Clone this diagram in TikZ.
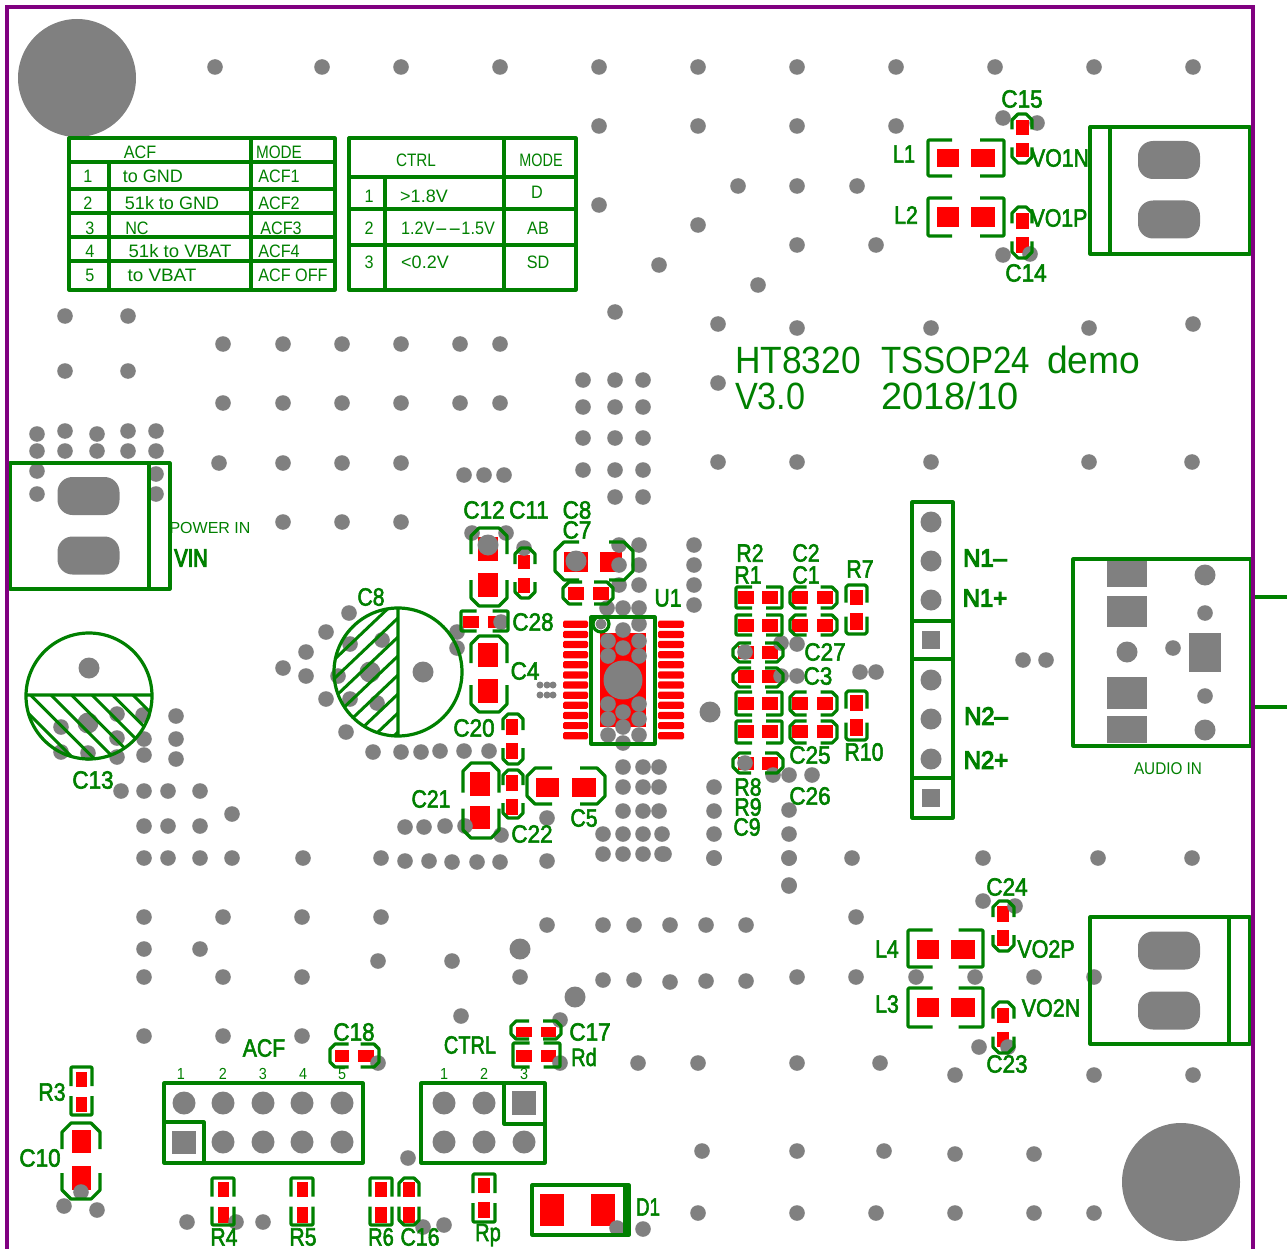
\documentclass[tikz,border=0pt]{standalone}
\usepackage{fontspec}
\setmainfont{Liberation Sans}
\newfontfamily\lbfont[FakeBold=2.5]{Liberation Sans}
\newfontfamily\nbfont[FakeBold=5]{Liberation Sans}
\newfontfamily\thfont{Liberation Sans}
\definecolor{pcbgreen}{RGB}{0,128,0}
\definecolor{pcbgray}{RGB}{128,128,128}
\definecolor{pcbred}{RGB}{255,0,0}
\definecolor{pcbpurple}{RGB}{128,0,128}
\tikzset{
  sk/.style={draw=pcbgreen,line width=3.2pt,line join=round},
  via/.style={fill=pcbgray,draw=none},
  pad/.style={fill=pcbred,draw=none},
  lb/.style={text=pcbgreen,inner sep=0pt,outer sep=0pt,anchor=center},
}
% name, x, y, size, xscale, text
\newcommand{\Lb}[6]{\node[lb] (#1) at (#2,#3) {\lbfont\fontsize{#4}{#4}\selectfont\scalebox{#5}[1]{#6}};}
\newcommand{\Nb}[6]{\node[lb] (#1) at (#2,#3) {\nbfont\fontsize{#4}{#4}\selectfont\scalebox{#5}[1]{#6}};}
\newcommand{\Th}[6]{\node[lb] (#1) at (#2,#3) {\thfont\fontsize{#4}{#4}\selectfont\scalebox{#5}[1]{#6}};}
\begin{document}
\begin{tikzpicture}[x=1pt,y=-1pt]
\useasboundingbox (0,0) rectangle (1287,1249);
\fill[white] (0,0) rectangle (1287,1249);
% red pads
\foreach \xa/\ya/\xb/\yb in {
 478/537/498/561,478/573/498/597,518/555/530/569,518/578/530/593,
 564/552/588/572,600/552/622/572,568/587/584/600,593/587/609/600,
 463/616/479/628,488/616/505/628,478/643/498/667,478/679/498/703,
 506/719/518/735,506/743/518/759,506/775/518/791,506/799/518/815,
 470/772/490/796,470/806/490/829,536/778/559/797,572/778/596/797,
 600/633/646/727,
 937/149/959/167,971/149/995/167,937/207/959/227,971/207/995/227,
 1016/120/1029/135,1016/143/1029/157,1016/213/1029/229,1016/237/1029/253,
 917/940/939/959,951/940/975/959,917/998/939/1017,951/998/975/1017,
 997/906/1009/922,997/930/1009/946,997/1008/1009/1023,997/1032/1009/1047,
 335/1050/349/1062,358/1050/374/1062,516/1027/532/1037,541/1027/556/1037,
 516/1050/532/1062,541/1050/556/1062,
 76/1072/87/1087,76/1097/87/1112,72/1130/91/1153,72/1166/91/1190,
 218/1182/229/1197,218/1207/229/1223,297/1182/308/1197,297/1207/308/1223,
 375/1182/387/1197,375/1207/387/1223,403/1182/415/1197,403/1207/415/1223,
 478/1178/490/1193,478/1202/490/1218,
 540/1194/564/1226,591/1194/615/1226,
 850/590/863/605,850/613/863/630,850/695/863/711,850/719/863/736}
 {\fill[pad] (\xa,\ya) rectangle (\xb,\yb);}
% right-hand small horizontal pads
\foreach \yc in {597,625,703,731}
 \foreach \xc in {746,770,800,825}
  {\fill[pad] ({\xc-8},{\yc-6.5}) rectangle ({\xc+8},{\yc+6.5});}
\foreach \yc in {652,676,763}
 \foreach \xc in {746,770}
  {\fill[pad] ({\xc-8},{\yc-6.5}) rectangle ({\xc+8},{\yc+6.5});}
% U1 pins
\foreach \i in {0,...,11} {
  \fill[pad,rounded corners=1.5pt] (563,{624.3+\i*10.13-3.6}) rectangle (588,{624.3+\i*10.13+3.6});
  \fill[pad,rounded corners=1.5pt] (658,{624.3+\i*10.13-3.6}) rectangle (684,{624.3+\i*10.13+3.6});
}
% vias
\foreach \x/\y in {
 215/67,322/67,401/67,500/67,599/67,698/67,797/67,896/67,995/67,1094/67,1193/67,
 599/126,698/126,797/126,896/126,1003/118,1037/123,
 738/186,797/186,857/186,599/205,698/225,797/245,876/245,659/265,758/285,
 1003/255,1030/254,
 718/324,797/328,931/328,1089/328,1193/324,718/383,
 65/316,128/316,65/371,128/371,615/312,
 223/344,283/344,342/344,401/344,460/344,500/344,
 223/403,283/403,342/403,401/403,460/403,500/403,
 583/380,615/380,643/380,583/407,615/407,643/407,583/438,615/438,643/438,
 583/470,615/470,643/470,615/497,643/497,
 219/463,283/463,342/463,401/463,464/475,484/475,504/475,
 718/462,797/462,931/462,1089/462,1192/462,283/522,342/522,401/522,
 37/434,65/431,97/434,128/431,156/431,37/451,65/451,97/451,128/451,156/451,
 37/471,37/494,156/474,156/494,
 61/727,117/714,143/715,117/738,144/739,61/752,88/753,117/757,144/755,
 176/716,176/739,176/759,
 121/791,144/791,168/791,200/791,144/826,168/826,200/826,232/814,
 144/858,168/858,200/858,232/858,303/858,381/858,405/861,429/861,452/862,477/862,500/862,
 144/917,223/917,302/917,381/917,144/949,200/949,144/977,223/977,302/977,
 378/961,452/961,520/977,547/925,603/925,634/925,670/925,706/925,746/925,
 603/980,634/980,670/982,706/981,746/981,797/977,461/1016,
 144/1036,223/1036,302/1036,378/1063,560/1020,560/1063,638/1063,408/1158,
 64/1206,97/1210,187/1222,236/1222,263/1222,423/1227,444/1225,617/1228,643/1229,81/1192,
 664/854,714/858,789/858,852/858,983/858,1098/858,1192/858,789/885,856/917,
 856/977,916/977,975/977,1034/977,1094/977,983/901,1015/906,979/1047,1008/1047,
 698/1063,797/1063,880/1063,955/1075,1094/1075,1193/1075,
 702/1151,797/1151,884/1151,955/1154,1034/1154,
 698/1213,797/1213,876/1213,955/1213,1034/1213,1094/1213,
 472/533,506/533,488/545,524/548,
 619/545,639/545,694/545,619/565,639/565,694/565,619/585,639/585,694/585,694/605,
 607/608,623/608,639/608,639/624,623/630,457/632,457/648,501/622,
 623/648,608/641,639/641,608/656,639/656,
 623/712,608/704,639/704,608/719,639/719,623/727,608/735,639/735,623/743,
 623/767,643/767,659/767,623/787,643/787,659/787,623/811,643/811,659/811,
 603/834,623/834,643/834,662/834,603/854,623/854,643/854,662/854,
 714/787,714/811,714/834,714/858,547/818,501/835,547/861,
 440/751,464/751,489/751,373/752,401/752,421/752,405/827,424/827,445/826,465/826,
 349/613,326/632,306/652,283/668,306/676,326/699,346/732,350/644,382/640,338/676,350/699,377/703,
 781/643,797/644,781/676,797/676,860/672,876/672,745/652,745/763,
 773/775,789/775,812/775,789/810,789/834,789/858,789/886,
 1023/660,1046/660,1205/613,1173/648,1205/696}
 {\fill[via] (\x,\y) circle (7.8);}
\foreach \x/\y in {710/712,576/561,488/545,520/949,575/997,370/672,88/723,89/668,1127/652,1205/575,1205/730,423/672,
 931/522,931/561,931/600,931/680,931/719,931/759}
 {\fill[via] (\x,\y) circle (10.5);}
\foreach \x/\y in {540/685,547/685,553/685,540/695,547/695,553/695}
 {\fill[via] (\x,\y) circle (3.5);}
\fill[via] (601,624) circle (5.5);
\fill[via] (623,680) circle (19.5);
\fill[via] (77,78) circle (59);
\fill[via] (1181,1182) circle (59);
% header vias
\foreach \x in {184,223,263,302,342} {\fill[via] (\x,1103) circle (11.5);}
\foreach \x in {223,263,302,342} {\fill[via] (\x,1142) circle (11.5);}
\foreach \x in {444,484} {\fill[via] (\x,1103) circle (11.5);}
\foreach \x in {444,484,524} {\fill[via] (\x,1142) circle (11.5);}
% gray squares
\foreach \xa/\ya/\xb/\yb in {
 172/1131/196/1154,512/1091/536/1115,922/631/940/649,922/789/940/807,
 1107/560/1147/587,1107/596/1147/627,1107/677/1147/709,1107/716/1147/743,1189/633/1221/672}
 {\fill[via] (\xa,\ya) rectangle (\xb,\yb);}
% terminal slots
\foreach \x/\y in {88.5/496,88.5/555.5,1169/160,1169/219.5,1169/950.5,1169/1010.5}
 {\fill[via,rounded corners=15pt] ({\x-31},{\y-19}) rectangle ({\x+31},{\y+19});}
% vertical part outlines: x1/y1/x2/y2/half gap/chamfer
\foreach \xa/\ya/\xb/\yb/\gp/\ck in {
 471/528/507/606/13/8, 515/548/535/598/9/6, 471/636/507/712/11/8, 503/714/523/764/9/5,
 503/770/523/818/9/5, 463/763/499/838/8/8,
 1012/114/1032/163/9/6, 1012/207/1032/258/9/6, 993/901/1014/951/9/6, 993/1002/1014/1053/9/6,
 62/1123/100/1199/12/9,
 846/585/867/634/7/2, 846/691/867/740/7/2,
 71/1067/92/1115/5/1, 212/1178/234/1225/5/1, 291/1178/313/1225/5/1, 370/1178/392/1225/5/1,
 399/1178/419/1225/5/5, 473/1174/495/1222/5/1}
{\draw[sk] (\xa,{(\ya+\yb)/2-\gp}) -- (\xa,{\ya+\ck}) -- ({\xa+\ck},\ya) -- ({\xb-\ck},\ya) -- (\xb,{\ya+\ck}) -- (\xb,{(\ya+\yb)/2-\gp});
 \draw[sk] (\xa,{(\ya+\yb)/2+\gp}) -- (\xa,{\yb-\ck}) -- ({\xa+\ck},\yb) -- ({\xb-\ck},\yb) -- (\xb,{\yb-\ck}) -- (\xb,{(\ya+\yb)/2+\gp});}
% horizontal part outlines
\foreach \xa/\ya/\xb/\yb/\gp/\ck in {
 555/542/633/580/15/9, 563/582/613/604/6/6, 461/611/508/631/8/1, 527/768/605/804/14/8,
 928/140/1004/176/14/1, 928/198/1004/236/14/1, 908/930/983/967/13/1, 908/988/983/1027/13/1,
 330/1044/379/1067/6/5, 511/1021/561/1039/7/5, 513/1043/560/1067/7/1,
 736/587/782/608/7/1, 736/615/782/635/7/1, 790/587/837/608/7/5, 790/615/837/635/7/5,
 733/643/783/662/7/6, 733/668/783/687/7/6,
 736/692/782/715/7/1, 736/721/782/743/7/1, 790/692/837/715/7/5, 790/721/837/743/7/5,
 733/753/783/773/7/6}
{\draw[sk] ({(\xa+\xb)/2-\gp},\ya) -- ({\xa+\ck},\ya) -- (\xa,{\ya+\ck}) -- (\xa,{\yb-\ck}) -- ({\xa+\ck},\yb) -- ({(\xa+\xb)/2-\gp},\yb);
 \draw[sk] ({(\xa+\xb)/2+\gp},\ya) -- ({\xb-\ck},\ya) -- (\xb,{\ya+\ck}) -- (\xb,{\yb-\ck}) -- ({\xb-\ck},\yb) -- ({(\xa+\xb)/2+\gp},\yb);}
% U1
\begin{scope}
 \clip (591,617) rectangle (655,744);
 \draw[sk] (601,624) circle (8);
\end{scope}
\draw[sk] (591,617) rectangle (655,744);
% D1
\draw[sk] (532,1185) rectangle (629,1235);
\fill[pcbgreen] (623,1185) rectangle (630,1235);
% connectors
\draw[sk] (10,463) rectangle (170,589) (149,463) -- (149,589);
\draw[sk] (1090,127) rectangle (1250,254) (1110,127) -- (1110,254);
\draw[sk] (1090,917) rectangle (1250,1044) (1229,917) -- (1229,1044);
\draw[sk] (912,502) rectangle (953,818) (912,621) -- (953,621) (912,659) -- (953,659) (912,778) -- (953,778);
\draw[sk] (1073,559) rectangle (1251,746);
\draw[sk] (1253,597) -- (1287,597) (1253,707) -- (1287,707);
\draw[sk] (164,1083) rectangle (363,1163) (164,1122) -- (204,1122) -- (204,1163);
\draw[sk] (421,1083) rectangle (545,1163) (504,1083) -- (504,1124) -- (545,1124);
% tables
\draw[sk] (69,138) rectangle (335,290)
  (251,138) -- (251,290) (109,162) -- (109,290)
  (69,162) -- (335,162) (69,189) -- (335,189) (69,213) -- (335,213) (69,237) -- (335,237) (69,261) -- (335,261);
\draw[sk] (349,138) rectangle (576,290)
  (504,138) -- (504,290) (385,177) -- (385,290)
  (349,177) -- (576,177) (349,209) -- (576,209) (349,245) -- (576,245);
% C13
\begin{scope}
 \clip (89,696) circle (63);
 \clip (20,695) rectangle (160,770);
 \foreach \k in {0,...,7} {\draw[pcbgreen,line width=3pt] ({10+\k*20.5},695) -- ({90+\k*20.5},775);}
\end{scope}
\draw[sk] (89,696) circle (63) (26,695) -- (153,695);
% C8
\begin{scope}
 \clip (398,672) circle (64);
 \clip (330,600) rectangle (398,745);
 \foreach \k in {-1,...,7} {\draw[pcbgreen,line width=3pt] (398,{618+\k*19}) -- (298,{713+\k*19});}
\end{scope}
\draw[sk] (398,672) circle (64) (398,608) -- (398,737);
% board outline
\draw[draw=pcbpurple,line width=3.2pt,line join=miter] (7,1249) -- (7,7) -- (1253,7) -- (1253,1249);
% table texts
\Th{a0}{140}{152}{18}{.9}{ACF}
\Th{a1}{279}{152}{18}{.85}{MODE}
\Th{a2}{88}{176}{18}{.9}{1}
\Th{a3}{153}{176}{18}{1.0}{to GND}
\Th{a4}{279}{176}{18}{.9}{ACF1}
\Th{a5}{88}{203}{18}{.9}{2}
\Th{a6}{172}{203}{18}{1.0}{51k to GND}
\Th{a7}{279}{203}{18}{.9}{ACF2}
\Th{a8}{90}{228}{18}{.9}{3}
\Th{a9}{137}{228}{18}{.9}{NC}
\Th{a10}{281}{228}{18}{.9}{ACF3}
\Th{a11}{90}{251}{18}{.9}{4}
\Th{a12}{180}{251}{18}{1.03}{51k to VBAT}
\Th{a13}{279}{251}{18}{.9}{ACF4}
\Th{a14}{90}{275}{18}{.9}{5}
\Th{a15}{162}{275}{18}{1.05}{to VBAT}
\Th{a16}{293}{275}{18}{.9}{ACF OFF}
\Th{b0}{416}{160}{18}{.85}{CTRL}
\Th{b1}{541}{160}{18}{.8}{MODE}
\Th{b2}{369}{196}{18}{.9}{1}
\Th{b3}{424}{196}{18}{1.0}{>1.8V}
\Th{b4}{537}{192}{18}{.9}{D}
\Th{b5}{369}{228}{18}{.9}{2}
\Th{b6}{448}{228}{18}{.9}{1.2V\scalebox{2.5}[1]{-}\scalebox{2.5}[1]{-}1.5V}
\Th{b7}{538}{228}{18}{.9}{AB}
\Th{b8}{369}{262}{18}{.9}{3}
\Th{b9}{425}{262}{18}{1.0}{<0.2V}
\Th{b10}{538}{262}{18}{.9}{SD}
% title
\node[lb,anchor=base west] (t1) at (735,373) {\thfont\fontsize{38}{38}\selectfont\scalebox{.93}[1]{HT8320}};
\node[lb,anchor=base west] (t2) at (881,373) {\thfont\fontsize{38}{38}\selectfont\scalebox{.87}[1]{TSSOP24}};
\node[lb,anchor=base west] (t3) at (1047,373) {\thfont\fontsize{38}{38}\selectfont\scalebox{.98}[1]{demo}};
\node[lb,anchor=base west] (t4) at (735,409) {\thfont\fontsize{38}{38}\selectfont\scalebox{.9}[1]{V3.0}};
\node[lb,anchor=base west] (t5) at (881,409) {\thfont\fontsize{38}{38}\selectfont\scalebox{1.0}[1]{2018/10}};
% labels
\Th{c0}{210}{528}{16}{1.0}{POWER IN}
\Nb{c1}{191}{558}{25}{.8}{VIN}
\Lb{c2}{93}{780}{25}{.9}{C13}
\Lb{c3}{371}{597}{25}{.85}{C8}
\Lb{c4}{484}{510}{25}{.9}{C12}
\Lb{c5}{529}{510}{25}{.9}{C11}
\Lb{c6}{577}{510}{25}{.9}{C8}
\Lb{c7}{577}{530}{25}{.9}{C7}
\Lb{c8}{533}{622}{25}{.9}{C28}
\Lb{c9}{525}{671}{25}{.9}{C4}
\Lb{c10}{474}{728}{25}{.9}{C20}
\Lb{c11}{431}{799}{25}{.85}{C21}
\Lb{c12}{532}{834}{25}{.9}{C22}
\Lb{c13}{584}{818}{25}{.85}{C5}
\Lb{c14}{668}{598}{25}{.85}{U1}
\Lb{c15}{750}{553}{25}{.85}{R2}
\Lb{c16}{748}{575}{25}{.85}{R1}
\Lb{c17}{806}{553}{25}{.85}{C2}
\Lb{c18}{806}{575}{25}{.85}{C1}
\Lb{c19}{860}{569}{25}{.85}{R7}
\Lb{c20}{825}{652}{25}{.9}{C27}
\Lb{c21}{818}{676}{25}{.9}{C3}
\Lb{c22}{810}{755}{25}{.9}{C25}
\Lb{c23}{864}{752}{25}{.85}{R10}
\Lb{c24}{748}{787}{25}{.85}{R8}
\Lb{c25}{748}{807}{25}{.85}{R9}
\Lb{c26}{747}{827}{25}{.85}{C9}
\Lb{c27}{810}{796}{25}{.9}{C26}
\Nb{c28}{985}{558}{25}{.95}{N1–}
\Nb{c29}{985}{598}{25}{.95}{N1+}
\Nb{c30}{986}{716}{25}{.95}{N2–}
\Nb{c31}{986}{760}{25}{.95}{N2+}
\Th{c32}{1168}{769}{17}{.9}{AUDIO IN}
\Lb{c33}{1022}{99}{25}{.9}{C15}
\Lb{c34}{1026}{273}{25}{.9}{C14}
\Lb{c35}{904}{154}{25}{.8}{L1}
\Lb{c36}{906}{215}{25}{.85}{L2}
\Lb{c37}{1060}{158}{25}{.85}{VO1N}
\Lb{c38}{1059}{218}{25}{.85}{VO1P}
\Lb{c39}{1007}{887}{25}{.9}{C24}
\Lb{c40}{1007}{1064}{25}{.9}{C23}
\Lb{c41}{887}{949}{25}{.85}{L4}
\Lb{c42}{887}{1004}{25}{.85}{L3}
\Lb{c43}{1046}{949}{25}{.86}{VO2P}
\Lb{c44}{1051}{1008}{25}{.86}{VO2N}
\Lb{c45}{264}{1048}{25}{.85}{ACF}
\Lb{c46}{470}{1045}{25}{.8}{CTRL}
\Lb{c47}{354}{1032}{25}{.9}{C18}
\Lb{c48}{590}{1032}{25}{.9}{C17}
\Lb{c49}{584}{1057}{25}{.8}{Rd}
\Lb{c50}{40}{1158}{25}{.9}{C10}
\Lb{c51}{52}{1092}{25}{.85}{R3}
\Lb{c52}{224}{1237}{25}{.85}{R4}
\Lb{c53}{303}{1237}{25}{.85}{R5}
\Lb{c54}{381}{1237}{25}{.8}{R6}
\Lb{c55}{420}{1237}{25}{.85}{C16}
\Lb{c56}{488}{1235}{25}{.8}{Rp}
\Lb{c57}{648}{1207}{25}{.75}{D1}
\Th{d1}{181}{1074}{16}{.9}{1}
\Th{d2}{223}{1074}{16}{.9}{2}
\Th{d3}{263}{1074}{16}{.9}{3}
\Th{d4}{303}{1074}{16}{.9}{4}
\Th{d5}{342}{1074}{16}{.9}{5}
\Th{e1}{444}{1074}{16}{.9}{1}
\Th{e2}{484}{1074}{16}{.9}{2}
\Th{e3}{524}{1074}{16}{.9}{3}
\end{tikzpicture}
\end{document}
